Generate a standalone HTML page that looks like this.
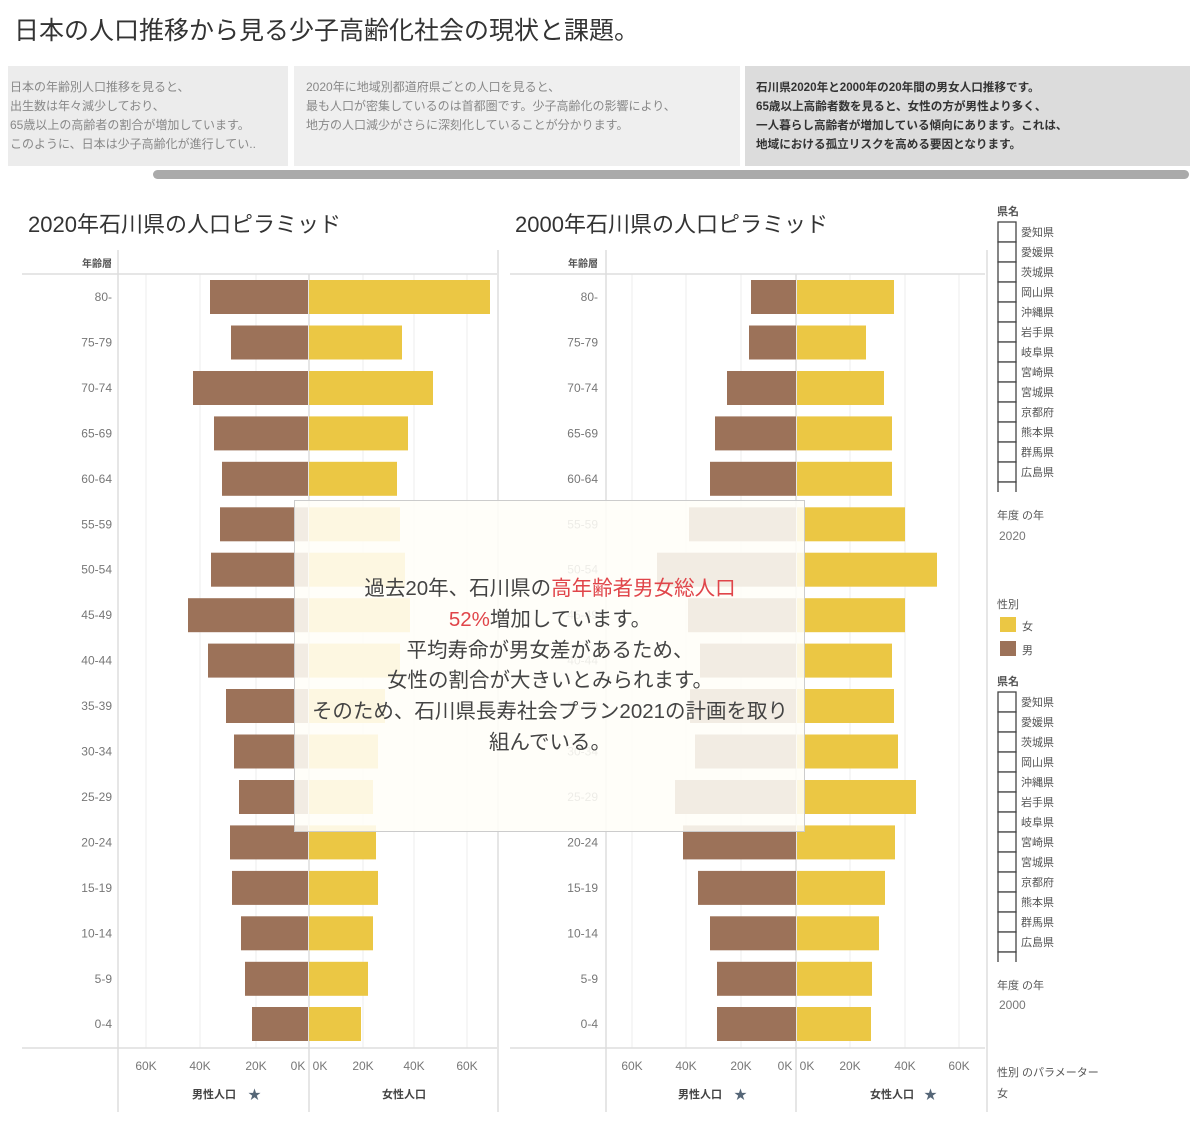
<!DOCTYPE html>
<html><head><meta charset="utf-8"><style>
body{margin:0;background:#fff;}
svg{display:block;font-family:"Liberation Sans","Noto Sans CJK JP",sans-serif;}
.ax{font-size:12px;fill:#777;}
.sm{font-size:10px;fill:#555;}
.hd{font-size:11px;fill:#555;}
</style></head><body>
<svg width="1200" height="1137" viewBox="0 0 1200 1137">
<text x="14" y="39" font-size="25" fill="#333">日本の人口推移から見る少子高齢化社会の現状と課題。</text>
<rect x="8" y="66" width="280" height="100" fill="#ececec"/>
<rect x="294" y="66" width="446" height="100" fill="#efefef"/>
<rect x="745" y="66" width="445" height="100" fill="#dcdcdc"/>
<g font-size="12" fill="#888">
<text x="10" y="91">日本の年齢別人口推移を見ると、</text>
<text x="10" y="110">出生数は年々減少しており、</text>
<text x="10" y="129">65歳以上の高齢者の割合が増加しています。</text>
<text x="10" y="148">このように、日本は少子高齢化が進行してい..</text>
<text x="306" y="91">2020年に地域別都道府県ごとの人口を見ると、</text>
<text x="306" y="110">最も人口が密集しているのは首都圏です。少子高齢化の影響により、</text>
<text x="306" y="129">地方の人口減少がさらに深刻化していることが分かります。</text>
</g>
<g font-size="11.6" fill="#333" font-weight="bold">
<text x="756" y="91">石川県2020年と2000年の20年間の男女人口推移です。</text>
<text x="756" y="110">65歳以上高齢者数を見ると、女性の方が男性より多く、</text>
<text x="756" y="129">一人暮らし高齢者が増加している傾向にあります。これは、</text>
<text x="756" y="148">地域における孤立リスクを高める要因となります。</text>
</g>
<rect x="153" y="170" width="1036" height="9" rx="4.5" fill="#aaa"/>

<text x="28" y="232" font-size="22" fill="#333">2020年石川県の人口ピラミッド</text>
<text x="515" y="232" font-size="22" fill="#333">2000年石川県の人口ピラミッド</text>

<g stroke="#eee" stroke-width="1">
<line x1="146" y1="274" x2="146" y2="1048"/><line x1="200" y1="274" x2="200" y2="1048"/><line x1="256" y1="274" x2="256" y2="1048"/>
<line x1="363" y1="274" x2="363" y2="1048"/><line x1="414" y1="274" x2="414" y2="1048"/><line x1="467" y1="274" x2="467" y2="1048"/>
<line x1="632" y1="274" x2="632" y2="1048"/><line x1="686" y1="274" x2="686" y2="1048"/><line x1="741" y1="274" x2="741" y2="1048"/>
<line x1="850" y1="274" x2="850" y2="1048"/><line x1="905" y1="274" x2="905" y2="1048"/><line x1="959" y1="274" x2="959" y2="1048"/>
</g>
<g stroke="#ddd" stroke-width="1.5">
<line x1="22" y1="274" x2="497" y2="274"/><line x1="22" y1="1048" x2="497" y2="1048"/>
<line x1="118" y1="250" x2="118" y2="1112"/><line x1="498" y1="250" x2="498" y2="1112"/><line x1="309" y1="274" x2="309" y2="1112"/>
<line x1="510" y1="274" x2="985" y2="274"/><line x1="510" y1="1048" x2="985" y2="1048"/>
<line x1="606" y1="250" x2="606" y2="1112"/><line x1="987" y1="250" x2="987" y2="1112"/><line x1="796" y1="274" x2="796" y2="1112"/>
</g>
<text x="112" y="267" class="sm" text-anchor="end" font-weight="bold">年齢層</text>
<text x="598" y="267" class="sm" text-anchor="end" font-weight="bold">年齢層</text>

<g fill="#9c7259">
<rect x="210" y="280" width="98" height="34"/><rect x="231" y="325.5" width="77" height="34"/><rect x="193" y="371" width="115" height="34"/><rect x="214" y="416.4" width="94" height="34"/><rect x="222" y="461.8" width="86" height="34"/><rect x="220" y="507.3" width="88" height="34"/><rect x="211" y="552.7" width="97" height="34"/><rect x="188" y="598.2" width="120" height="34"/><rect x="208" y="643.6" width="100" height="34"/><rect x="226" y="689" width="82" height="34"/><rect x="234" y="734.5" width="74" height="34"/><rect x="239" y="780" width="69" height="34"/><rect x="230" y="825.4" width="78" height="34"/><rect x="232" y="870.9" width="76" height="34"/><rect x="241" y="916.3" width="67" height="34"/><rect x="245" y="961.8" width="63" height="34"/><rect x="252" y="1007" width="56" height="34"/>
</g>
<g fill="#ebc744">
<rect x="309" y="280" width="181" height="34"/><rect x="309" y="325.5" width="93" height="34"/><rect x="309" y="371" width="124" height="34"/><rect x="309" y="416.4" width="99" height="34"/><rect x="309" y="461.8" width="88" height="34"/><rect x="309" y="507.3" width="91" height="34"/><rect x="309" y="552.7" width="96" height="34"/><rect x="309" y="598.2" width="101" height="34"/><rect x="309" y="643.6" width="91" height="34"/><rect x="309" y="689" width="76" height="34"/><rect x="309" y="734.5" width="69" height="34"/><rect x="309" y="780" width="64" height="34"/><rect x="309" y="825.4" width="67" height="34"/><rect x="309" y="870.9" width="69" height="34"/><rect x="309" y="916.3" width="64" height="34"/><rect x="309" y="961.8" width="59" height="34"/><rect x="309" y="1007" width="52" height="34"/>
</g>
<g fill="#9c7259">
<rect x="751" y="280" width="45" height="34"/><rect x="749" y="325.5" width="47" height="34"/><rect x="727" y="371" width="69" height="34"/><rect x="715" y="416.4" width="81" height="34"/><rect x="710" y="461.8" width="86" height="34"/><rect x="689" y="507.3" width="107" height="34"/><rect x="657" y="552.7" width="139" height="34"/><rect x="688" y="598.2" width="108" height="34"/><rect x="700" y="643.6" width="96" height="34"/><rect x="690" y="689" width="106" height="34"/><rect x="695" y="734.5" width="101" height="34"/><rect x="675" y="780" width="121" height="34"/><rect x="683" y="825.4" width="113" height="34"/><rect x="698" y="870.9" width="98" height="34"/><rect x="710" y="916.3" width="86" height="34"/><rect x="717" y="961.8" width="79" height="34"/><rect x="717" y="1007" width="79" height="34"/>
</g>
<g fill="#ebc744">
<rect x="797" y="280" width="97" height="34"/><rect x="797" y="325.5" width="69" height="34"/><rect x="797" y="371" width="87" height="34"/><rect x="797" y="416.4" width="95" height="34"/><rect x="797" y="461.8" width="95" height="34"/><rect x="797" y="507.3" width="108" height="34"/><rect x="797" y="552.7" width="140" height="34"/><rect x="797" y="598.2" width="108" height="34"/><rect x="797" y="643.6" width="95" height="34"/><rect x="797" y="689" width="97" height="34"/><rect x="797" y="734.5" width="101" height="34"/><rect x="797" y="780" width="119" height="34"/><rect x="797" y="825.4" width="98" height="34"/><rect x="797" y="870.9" width="88" height="34"/><rect x="797" y="916.3" width="82" height="34"/><rect x="797" y="961.8" width="75" height="34"/><rect x="797" y="1007" width="74" height="34"/>
</g>

<g class="ax" text-anchor="end">
<text x="112" y="301">80-</text><text x="112" y="346.5">75-79</text><text x="112" y="392">70-74</text><text x="112" y="437.4">65-69</text><text x="112" y="482.8">60-64</text><text x="112" y="528.3">55-59</text><text x="112" y="573.7">50-54</text><text x="112" y="619.2">45-49</text><text x="112" y="664.6">40-44</text><text x="112" y="710">35-39</text><text x="112" y="755.5">30-34</text><text x="112" y="801">25-29</text><text x="112" y="846.4">20-24</text><text x="112" y="891.9">15-19</text><text x="112" y="937.3">10-14</text><text x="112" y="982.8">5-9</text><text x="112" y="1028">0-4</text>
<text x="598" y="301">80-</text><text x="598" y="346.5">75-79</text><text x="598" y="392">70-74</text><text x="598" y="437.4">65-69</text><text x="598" y="482.8">60-64</text><text x="598" y="528.3">55-59</text><text x="598" y="573.7">50-54</text><text x="598" y="619.2">45-49</text><text x="598" y="664.6">40-44</text><text x="598" y="710">35-39</text><text x="598" y="755.5">30-34</text><text x="598" y="801">25-29</text><text x="598" y="846.4">20-24</text><text x="598" y="891.9">15-19</text><text x="598" y="937.3">10-14</text><text x="598" y="982.8">5-9</text><text x="598" y="1028">0-4</text>
</g>
<g class="ax" text-anchor="middle">
<text x="146" y="1070">60K</text><text x="200" y="1070">40K</text><text x="256" y="1070">20K</text><text x="298" y="1070">0K</text>
<text x="320" y="1070">0K</text><text x="363" y="1070">20K</text><text x="414" y="1070">40K</text><text x="467" y="1070">60K</text>
<text x="632" y="1070">60K</text><text x="686" y="1070">40K</text><text x="741" y="1070">20K</text><text x="785" y="1070">0K</text>
<text x="807" y="1070">0K</text><text x="850" y="1070">20K</text><text x="905" y="1070">40K</text><text x="959" y="1070">60K</text>
</g>
<g font-size="11" fill="#444" font-weight="bold" text-anchor="middle">
<text x="214" y="1098">男性人口</text><text x="404" y="1098">女性人口</text>
<text x="700" y="1098">男性人口</text><text x="892" y="1098">女性人口</text>
</g>
<g fill="#556677" font-size="13"><text x="248" y="1099">★</text><text x="734" y="1099">★</text><text x="924" y="1099">★</text></g>

<rect x="294.5" y="500.5" width="510" height="331" fill="#fffef8" fill-opacity="0.87" stroke="#ccc"/>
<g font-size="20.5" fill="#444" text-anchor="middle">
<text x="550" y="595">過去20年、石川県の<tspan fill="#e0454a">高年齢者男女総人口</tspan></text>
<text x="550" y="626"><tspan fill="#e0454a">52%</tspan>増加しています。</text>
<text x="550" y="657">平均寿命が男女差があるため、</text>
<text x="550" y="687">女性の割合が大きいとみられます。</text>
<text x="550" y="718">そのため、石川県長寿社会プラン2021の計画を取り</text>
<text x="550" y="749">組んでいる。</text>
</g>

<g class="hd" font-weight="bold" fill="#444"><text x="997" y="215">県名</text><text x="997" y="685">県名</text></g>
<g fill="#fff" stroke="#444" stroke-width="1.3">
<rect x="998" y="222" width="18" height="20"/><rect x="998" y="242" width="18" height="20"/><rect x="998" y="262" width="18" height="20"/><rect x="998" y="282" width="18" height="20"/><rect x="998" y="302" width="18" height="20"/><rect x="998" y="322" width="18" height="20"/><rect x="998" y="342" width="18" height="20"/><rect x="998" y="362" width="18" height="20"/><rect x="998" y="382" width="18" height="20"/><rect x="998" y="402" width="18" height="20"/><rect x="998" y="422" width="18" height="20"/><rect x="998" y="442" width="18" height="20"/><rect x="998" y="462" width="18" height="20"/><rect x="998" y="482" width="18" height="20"/>
<rect x="998" y="692" width="18" height="20"/><rect x="998" y="712" width="18" height="20"/><rect x="998" y="732" width="18" height="20"/><rect x="998" y="752" width="18" height="20"/><rect x="998" y="772" width="18" height="20"/><rect x="998" y="792" width="18" height="20"/><rect x="998" y="812" width="18" height="20"/><rect x="998" y="832" width="18" height="20"/><rect x="998" y="852" width="18" height="20"/><rect x="998" y="872" width="18" height="20"/><rect x="998" y="892" width="18" height="20"/><rect x="998" y="912" width="18" height="20"/><rect x="998" y="932" width="18" height="20"/><rect x="998" y="952" width="18" height="20"/>
</g>
<rect x="990" y="492" width="80" height="12" fill="#fff"/>
<rect x="990" y="962" width="80" height="12" fill="#fff"/>
<g class="hd" fill="#444">
<text x="1021" y="236">愛知県</text><text x="1021" y="256">愛媛県</text><text x="1021" y="276">茨城県</text><text x="1021" y="296">岡山県</text><text x="1021" y="316">沖縄県</text><text x="1021" y="336">岩手県</text><text x="1021" y="356">岐阜県</text><text x="1021" y="376">宮崎県</text><text x="1021" y="396">宮城県</text><text x="1021" y="416">京都府</text><text x="1021" y="436">熊本県</text><text x="1021" y="456">群馬県</text><text x="1021" y="476">広島県</text>
<text x="1021" y="706">愛知県</text><text x="1021" y="726">愛媛県</text><text x="1021" y="746">茨城県</text><text x="1021" y="766">岡山県</text><text x="1021" y="786">沖縄県</text><text x="1021" y="806">岩手県</text><text x="1021" y="826">岐阜県</text><text x="1021" y="846">宮崎県</text><text x="1021" y="866">宮城県</text><text x="1021" y="886">京都府</text><text x="1021" y="906">熊本県</text><text x="1021" y="926">群馬県</text><text x="1021" y="946">広島県</text>
<text x="997" y="519">年度 の年</text><text x="997" y="989">年度 の年</text>
<text x="997" y="608">性別</text>
<text x="1022" y="630">女</text><text x="1022" y="654">男</text>
<text x="997" y="1076">性別 のパラメーター</text>
<text x="997" y="1097">女</text>
</g>
<g font-size="12" fill="#777"><text x="999" y="540">2020</text><text x="999" y="1009">2000</text></g>
<rect x="1000" y="617" width="16" height="15" fill="#ebc744"/>
<rect x="1000" y="641" width="16" height="15" fill="#9c7259"/>
</svg>
</body></html>
